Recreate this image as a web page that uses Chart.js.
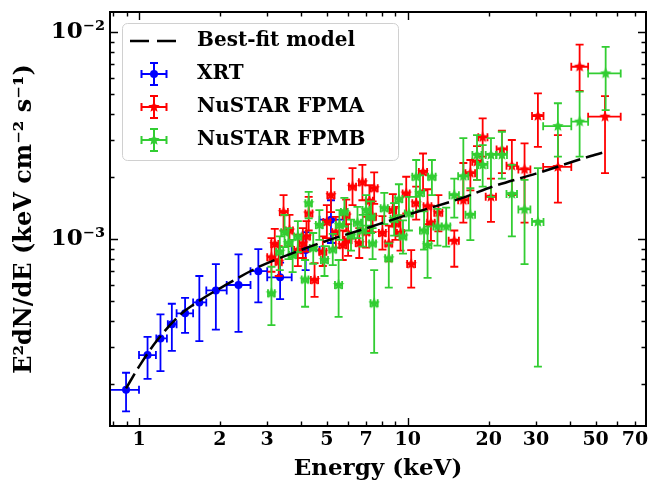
<!DOCTYPE html>
<html>
<head>
<meta charset="utf-8">
<script src="https://cdn.jsdelivr.net/npm/chart.js@4.4.0/dist/chart.umd.min.js"></script>
<style>
  html, body { margin: 0; padding: 0; background: #ffffff; }
</style>
</head>
<body>
<canvas id="spectrumChart" width="653" height="483"></canvas>
<script>
// rows: [E, E_lo, E_hi, flux, flux_lo, flux_hi]  (keV, keV cm^-2 s^-1)
const xrtData = [
  [0.895, 0.78, 1.0, 1.87e-4, 1.47e-4, 2.26e-4],
  [1.076, 1.0, 1.156, 2.75e-4, 2.11e-4, 3.37e-4],
  [1.202, 1.16, 1.27, 3.31e-4, 2.30e-4, 4.33e-4],
  [1.325, 1.28, 1.38, 3.88e-4, 2.88e-4, 4.87e-4],
  [1.484, 1.38, 1.59, 4.38e-4, 3.52e-4, 5.20e-4],
  [1.677, 1.59, 1.78, 4.94e-4, 3.21e-4, 6.63e-4],
  [1.932, 1.78, 2.12, 5.65e-4, 3.65e-4, 7.57e-4],
  [2.346, 2.12, 2.6, 6.00e-4, 3.56e-4, 8.44e-4],
  [2.78, 2.6, 3.0, 7.00e-4, 4.94e-4, 8.95e-4],
  [3.35, 3.0, 3.7, 6.53e-4, 5.13e-4, 7.69e-4],
  [4.17, 3.7, 4.7, 8.85e-4, 7.08e-4, 1.08e-3],
  [5.18, 4.7, 5.8, 1.24e-3, 9.57e-4, 1.54e-3]
];

const fpmaData = [
  [3.11, 3.0, 3.22, 8.16e-4, 6.95e-4, 1.01e-3],
  [3.20, 3.10, 3.30, 9.46e-4, 8.0e-4, 1.12e-3],
  [3.31, 3.22, 3.40, 7.77e-4, 6.63e-4, 9.25e-4],
  [3.45, 3.34, 3.58, 1.35e-3, 1.10e-3, 1.63e-3],
  [3.63, 3.52, 3.74, 1.10e-3, 9.25e-4, 1.31e-3],
  [3.90, 3.78, 4.02, 8.85e-4, 7.4e-4, 1.05e-3],
  [4.07, 3.95, 4.19, 9.53e-4, 8.10e-4, 1.13e-3],
  [4.20, 4.08, 4.33, 1.03e-3, 8.7e-4, 1.22e-3],
  [4.28, 4.16, 4.42, 1.33e-3, 1.10e-3, 1.60e-3],
  [4.50, 4.36, 4.64, 6.34e-4, 5.26e-4, 7.65e-4],
  [4.83, 4.68, 4.98, 8.69e-4, 7.41e-4, 1.03e-3],
  [5.00, 4.85, 5.15, 1.21e-3, 1.01e-3, 1.46e-3],
  [5.18, 5.02, 5.34, 1.63e-3, 1.35e-3, 1.96e-3],
  [5.40, 5.24, 5.56, 1.08e-3, 9.1e-4, 1.28e-3],
  [5.73, 5.56, 5.90, 9.35e-4, 7.92e-4, 1.10e-3],
  [5.90, 5.72, 6.08, 1.30e-3, 1.09e-3, 1.55e-3],
  [6.00, 5.82, 6.18, 9.89e-4, 8.3e-4, 1.18e-3],
  [6.23, 6.04, 6.42, 1.79e-3, 1.46e-3, 2.20e-3],
  [6.60, 6.40, 6.80, 9.57e-4, 8.10e-4, 1.13e-3],
  [6.78, 6.58, 6.98, 1.88e-3, 1.54e-3, 2.28e-3],
  [7.00, 6.79, 7.21, 1.08e-3, 9.1e-4, 1.28e-3],
  [7.20, 6.98, 7.42, 1.53e-3, 1.28e-3, 1.82e-3],
  [7.40, 7.18, 7.62, 1.28e-3, 1.08e-3, 1.52e-3],
  [7.50, 7.27, 7.73, 1.76e-3, 1.48e-3, 2.10e-3],
  [8.05, 7.81, 8.29, 1.07e-3, 8.9e-4, 1.29e-3],
  [8.50, 8.24, 8.76, 9.53e-4, 7.8e-4, 1.16e-3],
  [8.80, 8.54, 9.06, 1.38e-3, 1.15e-3, 1.65e-3],
  [9.00, 8.73, 9.27, 1.19e-3, 9.9e-4, 1.43e-3],
  [9.40, 9.12, 9.68, 1.07e-3, 8.8e-4, 1.30e-3],
  [9.87, 9.57, 10.17, 1.66e-3, 1.33e-3, 2.0e-3],
  [10.3, 9.95, 10.65, 7.57e-4, 5.82e-4, 8.85e-4],
  [10.75, 10.4, 11.1, 1.49e-3, 1.24e-3, 1.79e-3],
  [11.4, 11.0, 11.8, 2.11e-3, 1.72e-3, 2.59e-3],
  [11.85, 11.45, 12.25, 1.44e-3, 1.18e-3, 1.74e-3],
  [12.2, 11.8, 12.6, 1.20e-3, 9.8e-4, 1.45e-3],
  [13.0, 12.55, 13.45, 1.34e-3, 1.09e-3, 1.63e-3],
  [14.9, 14.2, 15.5, 9.81e-4, 7.35e-4, 1.10e-3],
  [16.1, 15.4, 16.8, 1.54e-3, 1.20e-3, 2.33e-3],
  [17.1, 16.4, 17.8, 2.08e-3, 1.72e-3, 2.41e-3],
  [18.1, 17.4, 18.8, 2.36e-3, 1.93e-3, 2.81e-3],
  [19.0, 18.3, 19.8, 3.10e-3, 2.50e-3, 3.83e-3],
  [20.4, 19.5, 21.3, 1.60e-3, 1.21e-3, 1.96e-3],
  [22.4, 21.4, 23.4, 2.71e-3, 2.08e-3, 3.34e-3],
  [24.4, 23.3, 25.5, 2.26e-3, 1.63e-3, 3.01e-3],
  [27.2, 25.8, 28.6, 2.17e-3, 1.20e-3, 2.90e-3],
  [30.5, 29.0, 32.0, 3.93e-3, 2.79e-3, 5.06e-3],
  [36.2, 31.9, 40.6, 2.23e-3, 1.50e-3, 3.18e-3],
  [43.6, 40.6, 46.9, 6.80e-3, 5.20e-3, 8.70e-3],
  [54.2, 46.9, 62.0, 3.90e-3, 2.08e-3, 4.90e-3]
];

const fpmbData = [
  [3.11, 3.02, 3.20, 5.47e-4, 3.84e-4, 7.35e-4],
  [3.34, 3.24, 3.44, 8.69e-4, 7.08e-4, 1.03e-3],
  [3.48, 3.38, 3.58, 1.08e-3, 9.15e-4, 1.31e-3],
  [3.60, 3.50, 3.70, 9.57e-4, 8.0e-4, 1.13e-3],
  [3.73, 3.62, 3.84, 8.37e-4, 6.93e-4, 9.9e-4],
  [3.90, 3.78, 4.02, 1.03e-3, 8.65e-4, 1.22e-3],
  [4.15, 4.03, 4.27, 6.38e-4, 4.71e-4, 7.92e-4],
  [4.28, 4.16, 4.40, 1.49e-3, 1.26e-3, 1.69e-3],
  [4.45, 4.32, 4.58, 9.05e-4, 7.6e-4, 1.07e-3],
  [4.69, 4.55, 4.83, 1.17e-3, 9.9e-4, 1.38e-3],
  [4.90, 4.75, 5.05, 7.92e-4, 6.63e-4, 9.25e-4],
  [5.26, 5.10, 5.42, 8.91e-4, 7.49e-4, 1.06e-3],
  [5.53, 5.36, 5.70, 6.00e-4, 4.21e-4, 7.92e-4],
  [5.57, 5.40, 5.74, 1.17e-3, 9.9e-4, 1.38e-3],
  [5.81, 5.64, 5.98, 1.35e-3, 1.15e-3, 1.58e-3],
  [6.15, 5.97, 6.33, 1.04e-3, 8.8e-4, 1.24e-3],
  [6.50, 6.30, 6.70, 1.20e-3, 1.01e-3, 1.43e-3],
  [6.80, 6.60, 7.00, 1.10e-3, 9.2e-4, 1.31e-3],
  [7.00, 6.79, 7.21, 1.38e-3, 1.16e-3, 1.63e-3],
  [7.30, 7.08, 7.52, 1.28e-3, 1.07e-3, 1.52e-3],
  [7.40, 7.18, 7.62, 9.53e-4, 8.0e-4, 1.13e-3],
  [7.50, 7.27, 7.73, 4.89e-4, 2.82e-4, 7.08e-4],
  [8.18, 7.93, 8.43, 1.41e-3, 1.18e-3, 1.67e-3],
  [8.50, 8.24, 8.76, 8.07e-4, 5.82e-4, 9.53e-4],
  [8.90, 8.63, 9.17, 1.25e-3, 1.04e-3, 1.49e-3],
  [9.27, 8.99, 9.55, 1.56e-3, 1.30e-3, 1.84e-3],
  [9.60, 9.31, 9.89, 1.03e-3, 8.5e-4, 1.23e-3],
  [10.1, 9.75, 10.45, 1.33e-3, 1.10e-3, 1.60e-3],
  [10.75, 10.4, 11.1, 2.00e-3, 1.60e-3, 2.41e-3],
  [11.1, 10.7, 11.5, 1.67e-3, 1.38e-3, 2.03e-3],
  [11.5, 11.1, 11.9, 1.10e-3, 8.9e-4, 1.36e-3],
  [11.85, 11.45, 12.25, 9.35e-4, 6.50e-4, 1.15e-3],
  [12.3, 11.9, 12.7, 2.00e-3, 1.63e-3, 2.41e-3],
  [12.9, 12.45, 13.35, 1.15e-3, 9.3e-4, 1.40e-3],
  [13.9, 13.4, 14.4, 1.15e-3, 9.2e-4, 1.42e-3],
  [14.9, 14.3, 15.5, 1.63e-3, 1.27e-3, 1.96e-3],
  [16.1, 15.4, 16.8, 2.01e-3, 1.60e-3, 3.07e-3],
  [17.1, 16.4, 17.8, 1.31e-3, 9.89e-4, 1.76e-3],
  [18.1, 17.4, 18.8, 2.55e-3, 1.93e-3, 3.18e-3],
  [19.0, 18.3, 19.8, 2.28e-3, 1.79e-3, 2.84e-3],
  [20.4, 19.5, 21.3, 2.55e-3, 1.60e-3, 3.07e-3],
  [22.4, 21.4, 23.4, 2.55e-3, 1.96e-3, 3.30e-3],
  [24.4, 23.3, 25.5, 1.65e-3, 1.03e-3, 2.28e-3],
  [27.2, 25.8, 28.6, 1.39e-3, 7.57e-4, 1.93e-3],
  [30.5, 29.0, 32.0, 1.21e-3, 2.42e-4, 2.20e-3],
  [36.2, 31.9, 40.6, 3.51e-3, 2.50e-3, 4.53e-3],
  [43.6, 40.6, 46.9, 3.69e-3, 2.50e-3, 5.15e-3],
  [54.5, 46.9, 62.0, 6.31e-3, 4.20e-3, 8.49e-3]
];

const modelEnergy = [0.895, 1.0, 1.17, 1.42, 1.69, 2.0, 2.8, 3.85, 5.1, 6.6, 7.8, 10, 16.4, 20.6, 30, 48, 55];
const modelFlux = [1.90e-4, 2.42e-4, 3.25e-4, 4.30e-4, 5.07e-4, 5.78e-4, 7.35e-4, 8.69e-4, 9.9e-4,
                   1.10e-3, 1.18e-3, 1.31e-3, 1.60e-3, 1.79e-3, 2.07e-3, 2.52e-3, 2.65e-3];

const xTickValues = [0.8, 0.9, 1, 2, 3, 4, 5, 6, 7, 8, 9, 10, 20, 30, 40, 50, 60, 70];
const xTickLabels = [1, 2, 3, 5, 7, 10, 20, 30, 50, 70];
const xMajor = [1, 10];
const yTickValues = [2e-4, 3e-4, 4e-4, 5e-4, 6e-4, 7e-4, 8e-4, 9e-4, 1e-3,
                     2e-3, 3e-3, 4e-3, 5e-3, 6e-3, 7e-3, 8e-3, 9e-3, 1e-2];
const yTickLabels = { '0.001': '10⁻³', '0.01': '10⁻²' };

const seriesNames = ['Best-fit model', 'XRT', 'NuSTAR FPMA', 'NuSTAR FPMB'];
const seriesColors = ['#000000', '#0000ff', '#ff0000', '#32cd32'];

const FONT = "'DejaVu Serif', serif";

// filled star marker
function makeStar(color, r) {
  const c = document.createElement('canvas');
  c.width = c.height = Math.ceil(r * 2 + 2);
  const g = c.getContext('2d');
  const cx = c.width / 2, cy = c.height / 2;
  g.beginPath();
  for (let i = 0; i < 10; i++) {
    const rr = i % 2 === 0 ? r : r * 0.45;
    const a = -Math.PI / 2 + i * Math.PI / 5;
    g.lineTo(cx + rr * Math.cos(a), cy + rr * Math.sin(a));
  }
  g.closePath();
  g.fillStyle = color;
  g.fill();
  return c;
}

// legend handles
function makeErrHandle(color, marker) {
  const c = document.createElement('canvas');
  c.width = 64; c.height = 28;
  const g = c.getContext('2d');
  const cx = 31, cy = 14;
  g.strokeStyle = color; g.lineWidth = 2;
  g.beginPath();
  g.moveTo(cx - 12.5, cy); g.lineTo(cx + 12.5, cy);
  g.moveTo(cx, cy - 11); g.lineTo(cx, cy + 11);
  g.moveTo(cx - 12.5, cy - 4); g.lineTo(cx - 12.5, cy + 4);
  g.moveTo(cx + 12.5, cy - 4); g.lineTo(cx + 12.5, cy + 4);
  g.moveTo(cx - 4, cy - 11); g.lineTo(cx + 4, cy - 11);
  g.moveTo(cx - 4, cy + 11); g.lineTo(cx + 4, cy + 11);
  g.stroke();
  if (marker === 'circle') {
    g.fillStyle = color;
    g.beginPath(); g.arc(cx, cy, 4, 0, Math.PI * 2); g.fill();
  } else {
    const s = makeStar(color, 6);
    g.drawImage(s, cx - s.width / 2, cy - s.height / 2);
  }
  return c;
}

function makeLineHandle() {
  const c = document.createElement('canvas');
  c.width = 64; c.height = 8;
  const g = c.getContext('2d');
  g.strokeStyle = '#000'; g.lineWidth = 2.5;
  g.setLineDash([19, 8]);
  g.beginPath(); g.moveTo(7, 4); g.lineTo(54, 4); g.stroke();
  return c;
}

const legendHandles = [
  makeLineHandle(),
  makeErrHandle(seriesColors[1], 'circle'),
  makeErrHandle(seriesColors[2], 'star'),
  makeErrHandle(seriesColors[3], 'star')
];

function toPoints(rows) {
  return rows.map(r => ({ x: r[0], y: r[3] }));
}

// error bars drawn just before each dataset's markers
const errorBars = {
  id: 'errorBars',
  beforeDatasetDraw(chart, args) {
    const ds = chart.data.datasets[args.index];
    if (!ds.errRows) return;
    const xs = chart.scales.x, ys = chart.scales.y, a = chart.chartArea;
    const ctx = chart.ctx;
    const cap = 4;
    ctx.save();
    ctx.beginPath();
    ctx.rect(a.left, a.top, a.right - a.left, a.bottom - a.top);
    ctx.clip();
    ctx.strokeStyle = ds.errColor;
    ctx.lineWidth = 1.8;
    ctx.beginPath();
    ds.errRows.forEach(r => {
      const px = xs.getPixelForValue(r[0]);
      const py = ys.getPixelForValue(r[3]);
      const x0 = xs.getPixelForValue(r[1]), x1 = xs.getPixelForValue(r[2]);
      const y0 = ys.getPixelForValue(r[4]), y1 = ys.getPixelForValue(r[5]);
      ctx.moveTo(x0, py); ctx.lineTo(x1, py);
      ctx.moveTo(px, y0); ctx.lineTo(px, y1);
      ctx.moveTo(x0, py - cap); ctx.lineTo(x0, py + cap);
      ctx.moveTo(x1, py - cap); ctx.lineTo(x1, py + cap);
      ctx.moveTo(px - cap, y0); ctx.lineTo(px + cap, y0);
      ctx.moveTo(px - cap, y1); ctx.lineTo(px + cap, y1);
    });
    ctx.stroke();
    ctx.restore();
  }
};

// matplotlib-like frame with inward ticks on all four sides
const frameTicks = {
  id: 'frameTicks',
  afterDatasetsDraw(chart) {
    const ctx = chart.ctx, a = chart.chartArea;
    const xs = chart.scales.x, ys = chart.scales.y;
    ctx.save();
    ctx.strokeStyle = '#000';
    ctx.lineWidth = 1.4;
    ctx.beginPath();
    xTickValues.forEach(v => {
      const p = Math.round(xs.getPixelForValue(v)) + 0.5;
      const len = xMajor.includes(v) ? 8 : 4.5;
      ctx.moveTo(p, a.bottom); ctx.lineTo(p, a.bottom - len);
      ctx.moveTo(p, a.top); ctx.lineTo(p, a.top + len);
    });
    yTickValues.forEach(v => {
      const p = Math.round(ys.getPixelForValue(v)) + 0.5;
      const len = (v === 1e-3 || v === 1e-2) ? 8 : 4.5;
      ctx.moveTo(a.left, p); ctx.lineTo(a.left + len, p);
      ctx.moveTo(a.right, p); ctx.lineTo(a.right - len, p);
    });
    ctx.stroke();
    ctx.lineWidth = 2;
    ctx.strokeRect(a.left, a.top, a.right - a.left, a.bottom - a.top);
    ctx.restore();
  }
};

// rounded legend frame, drawn under the legend
const legendFrame = {
  id: 'legendFrame',
  afterLayout(chart) {
    const lg = chart.legend;
    lg.top = chart.chartArea.top + 6;
    lg.bottom = chart.chartArea.bottom;
  },
  beforeDraw(chart) {
    const ctx = chart.ctx;
    const x = 122, y = 23, w = 276, h = 137, r = 5;
    ctx.save();
    ctx.fillStyle = 'rgba(255,255,255,0.8)';
    ctx.strokeStyle = '#d0d0d0';
    ctx.lineWidth = 1;
    ctx.beginPath();
    ctx.roundRect(x + 0.5, y + 0.5, w, h, r);
    ctx.fill();
    ctx.stroke();
    ctx.restore();
  }
};

document.addEventListener('DOMContentLoaded', function () {
  const ctx = document.getElementById('spectrumChart').getContext('2d');
  new Chart(ctx, {
    type: 'scatter',
    data: {
      datasets: [
        {
          label: seriesNames[0],
          data: modelEnergy.map((e, i) => ({ x: e, y: modelFlux[i] })),
          showLine: true,
          borderColor: '#000',
          borderWidth: 2.5,
          borderDash: [17, 6],
          pointRadius: 0,
          fill: false,
          cubicInterpolationMode: 'monotone',
          order: 0
        },
        {
          label: seriesNames[1],
          data: toPoints(xrtData),
          errRows: xrtData,
          errColor: seriesColors[1],
          pointStyle: 'circle',
          pointRadius: 4,
          backgroundColor: seriesColors[1],
          borderColor: seriesColors[1],
          borderWidth: 0,
          order: 3
        },
        {
          label: seriesNames[2],
          data: toPoints(fpmaData),
          errRows: fpmaData,
          errColor: seriesColors[2],
          pointStyle: makeStar(seriesColors[2], 6),
          pointRadius: 6,
          order: 2
        },
        {
          label: seriesNames[3],
          data: toPoints(fpmbData),
          errRows: fpmbData,
          errColor: seriesColors[3],
          pointStyle: makeStar(seriesColors[3], 6),
          pointRadius: 6,
          order: 1
        }
      ]
    },
    options: {
      responsive: false,
      animation: false,
      devicePixelRatio: 1,
      layout: { padding: { left: 0, right: 5, top: 12, bottom: 0 } },
      scales: {
        x: {
          type: 'logarithmic',
          position: 'bottom',
          min: 0.78,
          max: 77,
          grid: { display: false, drawTicks: false, tickLength: 0 },
          border: { display: false },
          afterBuildTicks(scale) { scale.ticks = xTickValues.map(v => ({ value: v })); },
          afterFit(scale) {
            scale.height = 57;
            scale.paddingLeft = 0;
            scale.paddingRight = 0;
          },
          ticks: {
            autoSkip: false,
            maxRotation: 0,
            padding: 3,
            color: '#000',
            font: { family: FONT, size: 19, weight: 'bold' },
            callback(value) { return xTickLabels.includes(value) ? String(value) : ''; }
          },
          title: {
            display: true,
            text: 'Energy (keV)',
            color: '#000',
            font: { family: FONT, size: 23, weight: 'bold' },
            padding: { top: 0, bottom: 0 }
          }
        },
        y: {
          type: 'logarithmic',
          position: 'left',
          min: 1.25e-4,
          max: 1.25e-2,
          grid: { display: false, drawTicks: false, tickLength: 0 },
          border: { display: false },
          afterBuildTicks(scale) { scale.ticks = yTickValues.map(v => ({ value: v })); },
          afterFit(scale) {
            scale.width = 110;
            scale.paddingTop = 0;
            scale.paddingBottom = 0;
          },
          ticks: {
            autoSkip: false,
            padding: 5,
            labelOffset: 0,
            color: '#000',
            font: { family: FONT, size: 23, weight: 'bold' },
            callback(value) { return yTickLabels[String(value)] || ''; }
          },
          title: {
            display: true,
            text: 'E²dN/dE (keV cm⁻² s⁻¹)',
            color: '#000',
            font: { family: FONT, size: 24, weight: 'bold' },
            padding: { top: 10, bottom: 0 }
          }
        }
      },
      plugins: {
        legend: {
          display: true,
          position: 'chartArea',
          align: 'start',
          labels: {
            usePointStyle: true,
            pointStyleWidth: 64,
            padding: 13,
            color: '#000',
            font: { family: FONT, size: 20, weight: 'bold' },
            generateLabels(chart) {
              return chart.data.datasets.map((ds, i) => ({
                text: ds.label,
                datasetIndex: i,
                pointStyle: legendHandles[i],
                fillStyle: 'transparent',
                strokeStyle: 'transparent',
                lineWidth: 0,
                hidden: false,
                fontColor: '#000'
              }));
            }
          }
        },
        tooltip: { enabled: false }
      }
    },
    plugins: [errorBars, frameTicks, legendFrame]
  });
});
</script>
</body>
</html>
